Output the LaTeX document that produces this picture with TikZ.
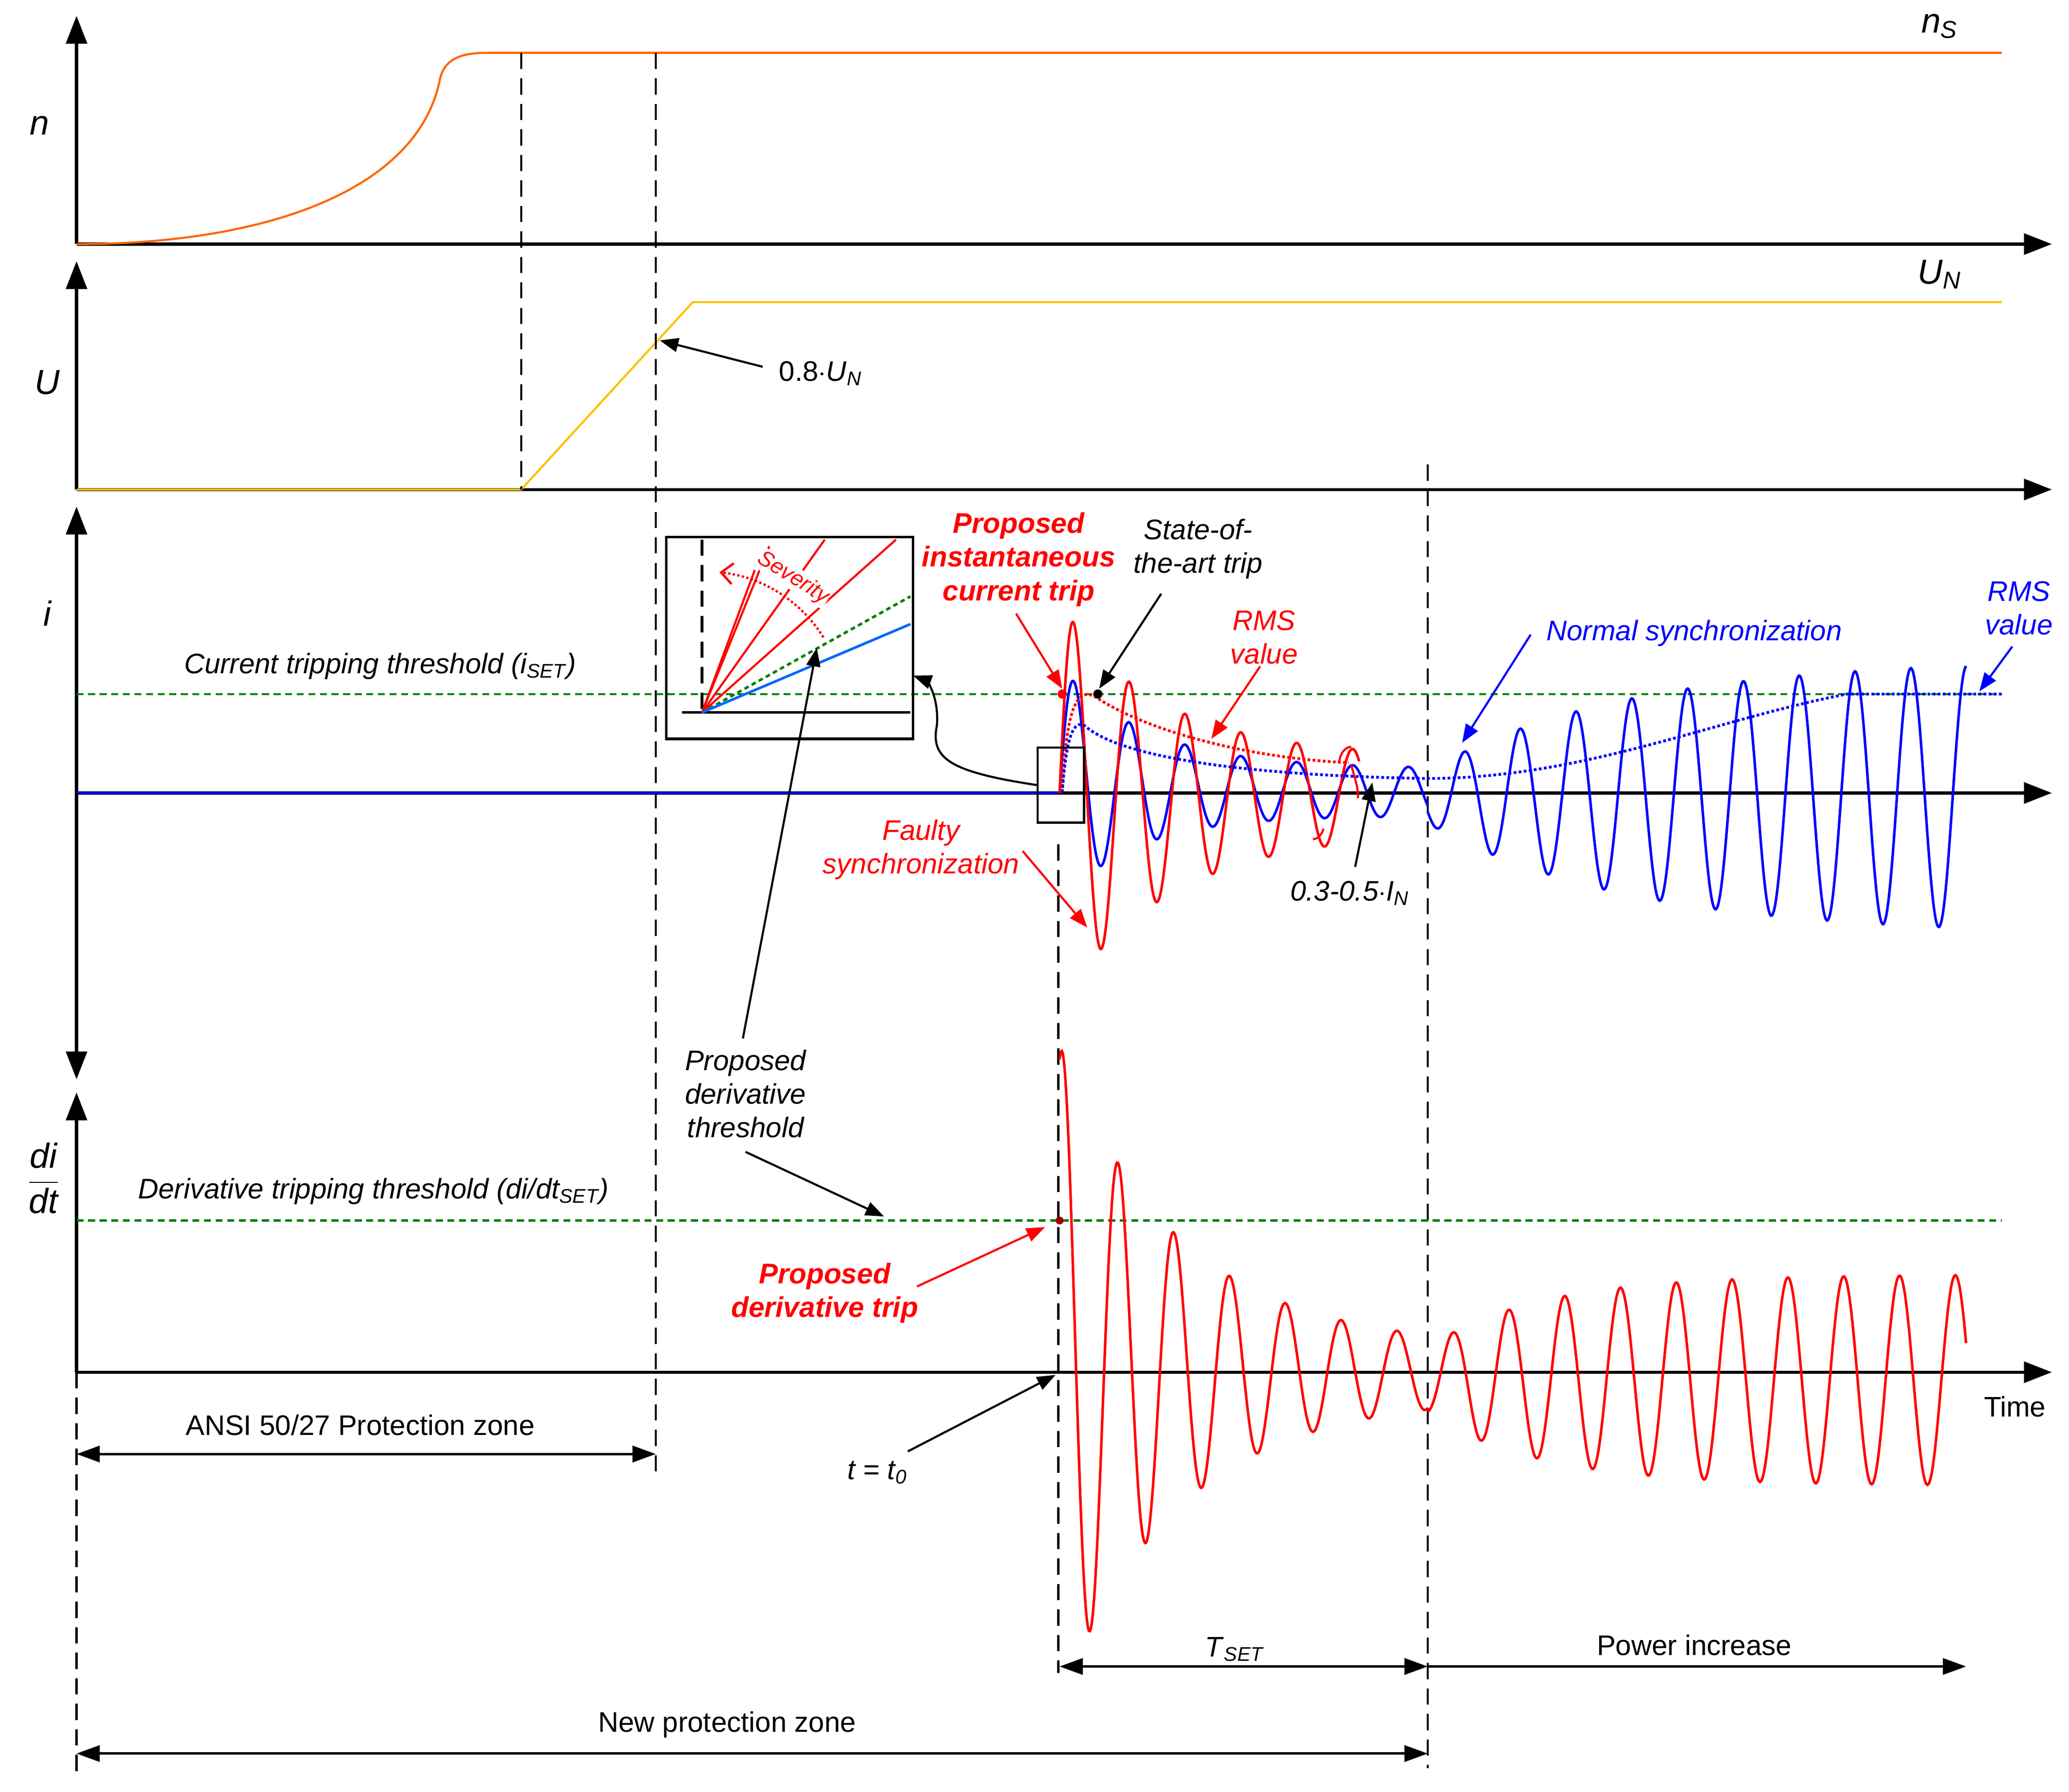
\documentclass[tikz,border=0pt]{standalone}
\usepackage{fontspec}
\setmainfont{Liberation Sans}
\usetikzlibrary{arrows.meta}
\definecolor{orng}{RGB}{255,102,0}
\definecolor{yel}{RGB}{255,192,0}
\definecolor{grn}{RGB}{0,128,0}
\definecolor{blu}{RGB}{0,0,255}
\definecolor{lblu}{RGB}{0,102,255}
\begin{document}
\begin{tikzpicture}[x=0.02cm,y=-0.02cm,line width=0.9pt,
  font=\fontsize{12.2}{14.5}\selectfont,
  ax/.style={line width=1.3pt,-{Triangle[length=12pt,width=9pt]}},
  dax/.style={line width=1.3pt,{Triangle[length=12pt,width=9pt]}-{Triangle[length=12pt,width=9pt]}},
  zar/.style={line width=1pt,{Triangle[length=10pt,width=7pt]}-{Triangle[length=10pt,width=7pt]}},
  zar1/.style={line width=1pt,-{Triangle[length=10pt,width=7pt]}},
  ann/.style={-{Triangle[length=8pt,width=6pt]}},
  dsh/.style={dash pattern=on 7pt off 4pt},
  thr/.style={grn,dash pattern=on 3pt off 2pt,line width=0.9pt},
  lbl/.style={font=\fontsize{12.2}{14.5}\selectfont\itshape,align=center},
  big/.style={font=\fontsize{15}{17}\selectfont\itshape},
  rl/.style={lbl,red},
  rb/.style={font=\fontsize{12.3}{14.5}\selectfont\bfseries\itshape,red,align=center}]
\useasboundingbox (0,0) rectangle (1568,1358);
% axes
\coordinate (o1) at (58,185); \coordinate (t1) at (58,12); \coordinate (e1) at (1555,185);
\draw[ax] (o1)--(t1); \draw[ax] (o1)--(e1);
\coordinate (o2) at (58,371); \coordinate (t2) at (58,198); \coordinate (e2) at (1555,371);
\draw[ax] (o2)--(t2); \draw[ax] (o2)--(e2);
\coordinate (b3) at (58,818); \coordinate (t3) at (58,384); \coordinate (o3) at (58,601); \coordinate (e3) at (1555,601);
\draw[dax] (b3)--(t3); \draw[ax] (o3)--(e3);
\coordinate (o4) at (58,1040); \coordinate (t4) at (58,828); \coordinate (e4) at (1555,1040);
\draw[ax] (o4)--(t4); \draw[ax] (o4)--(e4);
\node[big] (ln) at (30,95) {n};
\node[big] (lu) at (36,290) {U};
\node[big] (li) at (36,465) {i};
\node[big,inner sep=1pt] (ld) at (33,893) {$\displaystyle\frac{\textit{di}}{\textit{dt}}$};
\node (tm) at (1527,1066) {Time};
% speed
\draw[orng] (58,185) .. controls (200,185) and (315,145) .. (333,62) .. controls (336,45) and (348,40) .. (370,40) -- (1517,40);
\node[big] (ns) at (1470,20) {n\textsubscript{S}};
% voltage
\draw[yel] (58,371) -- (395,371) -- (525,229) -- (1517,229);
\node[big] (un) at (1470,208) {U\textsubscript{N}};
\node (l08) at (622,283) {0.8$\cdot$\textit{U}\textsubscript{\textit{N}}};
\coordinate (p08) at (500,258);
\draw[ann] (578,278) -- (p08);
% dashed verticals
\draw[dsh] (395,40) -- (395,371);
\draw[dsh] (497,40) -- (497,1118);
\draw[dsh] (802,640) -- (802,1268);
\draw[dsh] (1082,352) -- (1082,1340);
\draw[dsh] (58,1040) -- (58,1345);
% thresholds
\draw[thr] (58,526) -- (1517,526);
\node[lbl] (ct) at (288,505) {Current tripping threshold (\textit{i}\textsubscript{\textit{SET}})};
\draw[thr] (58,925) -- (1517,925);
\node[lbl] (dt) at (283,903) {Derivative tripping threshold (\textit{di/dt}\textsubscript{\textit{SET}})};
% current signals
\draw[blu] (58,601) -- (803,601);
\draw[blu,line width=1.1pt] plot[domain=803:1082,samples=400] (\x,{601-8*(1-exp(-(\x-803)/8))*exp(-(\x-803)/120)-(18+62*exp(-(\x-813)/60))*sin(8.51*(\x-803))});
\draw[blu,line width=1.1pt] plot[domain=1082:1490,samples=500] (\x,{601+3-(105-85*exp(-(\x-1082)/150))*sin(8.51*(\x-803))});
\draw[red,line width=1.1pt] plot[domain=803:1030,samples=400] (\x,{601+10*(1-exp(-(\x-803)/10))*exp(-(\x-803)/150)-(28+108*exp(-(\x-813)/80))*sin(8.51*(\x-803))});
% rms
\draw[red,densely dotted,line width=1.2pt] (805,600) .. controls (808,540) and (815,520) .. (830,528) .. controls (870,555) and (950,575) .. (1022,578);
\draw[blu,densely dotted,line width=1.2pt] (805,601) .. controls (808,560) and (813,545) .. (822,550) .. controls (850,575) and (950,588) .. (1082,590) .. controls (1200,590) and (1300,545) .. (1400,526) -- (1517,526);
\draw[red] (1015,577) .. controls (1016,570) and (1020,566) .. (1024,566);
\draw[red] (1024,580) .. controls (1027,590) and (1030,600) .. (1029,605);
\draw[red] (995,610) .. controls (996,620) and (998,628) .. (999,632);
\draw[red] (995,636) .. controls (999,636) and (1002,632) .. (1003,628);
% didt signal
\draw[red,line width=1.1pt] plot[domain=803:1082,samples=500] (\x,{1040-(18+225*exp(-(\x-805)/90))*cos(8.51*(\x-805))});
\draw[red,line width=1.1pt] plot[domain=1082:1490,samples=500] (\x,{1040+6-(80-55*exp(-(\x-1082)/85))*cos(8.51*(\x-805))});
% markers
\fill[red] (805,526) circle (3.5);
\fill (832,526) circle (3.5);
\fill[red!60!black] (803,925) circle (3);
% inset
\node[draw,line width=1.1pt,minimum width=187*0.02cm,minimum height=153*0.02cm,inner sep=0,anchor=north west] (ins) at (504,406) {};
\coordinate (io) at (532,540);
\draw[dsh,line width=1.1pt] (532,409) -- (io);
\draw[line width=1.1pt] (517,540) -- (690,540);
\draw[red] (io) -- (679,409); \draw[red] (io) -- (625,409); \draw[red] (io) -- (583,414); \draw[red] (io) -- (572,432);
\draw[grn,dash pattern=on 2pt off 1.5pt,line width=1.1pt] (io) -- (690,452);
\draw[lblu,line width=1.1pt] (io) -- (690,473);
\node[red,rotate=-32,fill=white,inner sep=0.5pt,font=\fontsize{9.5}{11}\selectfont\itshape] (sev) at (601,438) {Severity};
\coordinate (as) at (624,483);
\draw[red,densely dotted,line width=1pt,-{Straight Barb[length=5pt,width=9pt]}] (as) arc[start angle=-32, end angle=-84, radius=106];
\node[draw,minimum width=35*0.02cm,minimum height=57*0.02cm,inner sep=0] (sb) at (804,595) {};
\coordinate (ie) at (692,512);
\draw[ann] (sb.west) .. controls (720,585) and (705,575) .. (710,550) .. controls (712,525) and (700,515) .. (ie);
% labels
\node[rb] (pit) at (772,424) {Proposed\\instantaneous\\current trip};
\draw[red,ann] (770,465) -- (805,522);
\node[lbl] (sat) at (908,416) {State-of-\\the-art trip};
\draw[ann] (880,450) -- (833,522);
\node[rl] (rmsr) at (958,483) {RMS\\value};
\draw[red,ann] (955,505) -- (918,560);
\node[lbl,blu] (ns2) at (1284,480) {Normal synchronization};
\draw[blu,ann] (1160,481) -- (1108,563);
\node[lbl,blu] (rmsb) at (1530,461) {RMS\\value};
\draw[blu,ann] (1525,490) -- (1500,524);
\node[rl] (fs) at (698,644) {Faulty\\synchronization};
\draw[red,ann] (775,645) -- (824,703);
\node[lbl] (ir) at (1023,677) {0.3-0.5$\cdot$\textit{I}\textsubscript{\textit{N}}};
\draw[ann] (1027,657) -- (1040,593);
\node[lbl] (pdt) at (565,829) {Proposed\\derivative\\threshold};
\draw[ann] (563,787) -- (619,491);
\draw[ann] (565,873) -- (670,922);
\node[rb] (pdr) at (625,980) {Proposed\\derivative trip};
\draw[red,ann] (695,975) -- (792,930);
\node[lbl] (t0) at (665,1116) {\textit{t} = \textit{t}\textsubscript{0}};
\draw[ann] (688,1100) -- (800,1042);
% zones
\node (ansi) at (273,1080) {ANSI 50/27 Protection zone};
\draw[zar] (58,1102) -- (497,1102);
\node (tset) at (936,1250) {\textit{T}\textsubscript{\textit{SET}}};
\draw[zar] (803,1263) -- (1082,1263);
\node (pi) at (1284,1247) {Power increase};
\draw[zar1] (1082,1263) -- (1490,1263);
\node (npz) at (551,1307) {New protection zone};
\draw[zar] (58,1329) -- (1082,1329);
\end{tikzpicture}
\end{document}
